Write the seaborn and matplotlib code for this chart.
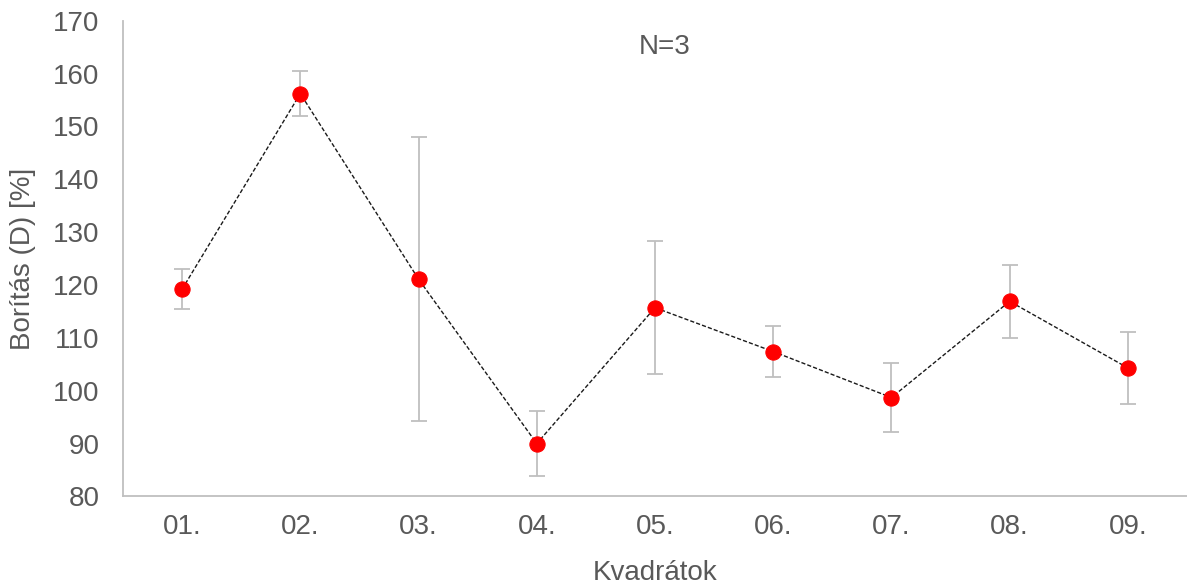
import matplotlib
matplotlib.use("Agg")
import matplotlib.pyplot as plt
import seaborn as sns
import pandas as pd
import numpy as np

categories = ["01.", "02.", "03.", "04.", "05.", "06.", "07.", "08.", "09."]
means = [119.2, 156.2, 121.1, 90.0, 115.7, 107.4, 98.7, 116.9, 104.3]
errors = [3.75, 4.2, 26.8, 6.2, 12.6, 4.75, 6.45, 6.85, 6.8]
y_ticks = [80, 90, 100, 110, 120, 130, 140, 150, 160, 170]

sns.set_theme(style="white")
plt.rcParams["font.family"] = ["Liberation Sans", "DejaVu Sans"]

TXT = "#595959"
GRID = "#bfbfbf"

df = pd.DataFrame({"pos": np.arange(len(categories)), "cat": categories, "val": means, "err": errors})

fig = plt.figure(figsize=(11.87, 5.84), dpi=100)
ax = fig.add_axes([0.1036, 0.150, 0.8964, 0.8146])

ax.errorbar(df["pos"], df["val"], yerr=df["err"], fmt="none", ecolor=GRID,
            elinewidth=1.3, capsize=6, capthick=1.3, zorder=1)
sns.lineplot(data=df, x="pos", y="val", ax=ax, color="#1a1a1a", linewidth=1.0,
             linestyle=(0, (3, 1.5)), marker="o", markersize=11,
             markerfacecolor="#ff0000", markeredgecolor="#ff0000", zorder=3)

ax.set_xlim(-0.5, len(categories) - 0.5)
ax.set_ylim(80, 170)
ax.set_yticks(y_ticks)
ax.set_xticks(df["pos"])
ax.set_xticklabels(categories)

for s in ["top", "right"]:
    ax.spines[s].set_visible(False)
for s in ["left", "bottom"]:
    ax.spines[s].set_color(GRID)
    ax.spines[s].set_linewidth(1.3)

ax.tick_params(axis="both", which="both", colors=GRID, labelcolor=TXT,
               labelsize=20, length=7, width=1.3, direction="out")
ax.tick_params(axis="x", pad=7, length=6)
ax.tick_params(axis="y", pad=10)

ax.set_xlabel("Kvadrátok", fontsize=20, color=TXT, labelpad=14)
ax.set_ylabel("Borítás (D) [%]", fontsize=20, color=TXT, labelpad=12)

ax.text(0.509, 0.945, "N=3", transform=ax.transAxes, fontsize=20, color=TXT,
        ha="center", va="center")

fig.savefig("out.png", dpi=100)
